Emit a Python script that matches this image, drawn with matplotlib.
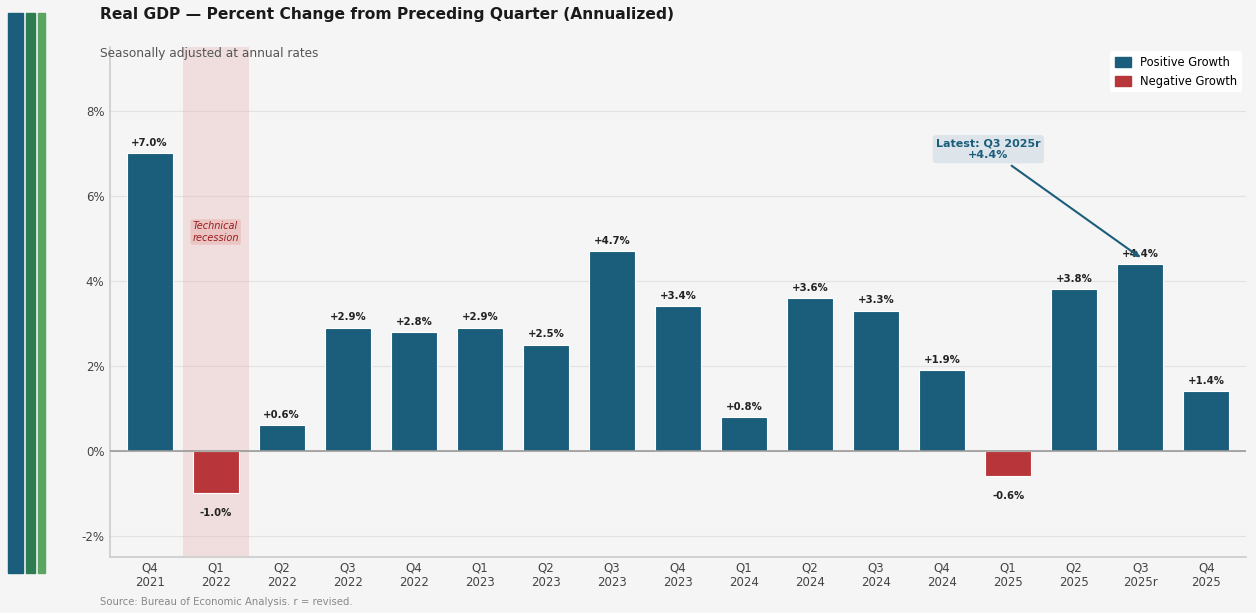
import matplotlib
matplotlib.use("Agg")
from matplotlib import pyplot as plt
from matplotlib.patches import Rectangle, Patch

quarters = ["Q4\n2021", "Q1\n2022", "Q2\n2022", "Q3\n2022", "Q4\n2022", "Q1\n2023",
            "Q2\n2023", "Q3\n2023", "Q4\n2023", "Q1\n2024", "Q2\n2024", "Q3\n2024",
            "Q4\n2024", "Q1\n2025", "Q2\n2025", "Q3\n2025r", "Q4\n2025"]
growth = [7.0, -1.0, 0.6, 2.9, 2.8, 2.9, 2.5, 4.7, 3.4, 0.8, 3.6, 3.3, 1.9, -0.6, 3.8, 4.4, 1.4]
y_ticks = [-2, 0, 2, 4, 6, 8]

pos_color = "#1b5e7b"
neg_color = "#b83639"
bg = "#f5f5f5"

fig = plt.figure(figsize=(12.56, 6.13), dpi=100, facecolor=bg)
ax = fig.add_axes([0.0876, 0.0914, 0.9044, 0.8316], facecolor=bg)

# Decorative stripes on the left.
for x0, w, c in [(8, 15, "#1b5e7b"), (26, 9, "#2e7d52"), (38, 7, "#5aa55f")]:
    fig.patches.append(Rectangle((x0 / 1256, 40 / 613), w / 1256, 560 / 613,
                                 transform=fig.transFigure, color=c, zorder=0))

x = list(range(len(growth)))
colors = [pos_color if v >= 0 else neg_color for v in growth]
ax.bar(x, growth, width=0.7, color=colors, edgecolor="white", linewidth=0.8, zorder=3)

# Recession shading.
ax.axvspan(0.5, 1.5, color="#e8b4b4", alpha=0.35, zorder=1, linewidth=0)
ax.text(1, 5.15, "Technical\nrecession", ha="center", va="center", fontsize=7,
        style="italic", color="#9b1c1c", zorder=4,
        bbox=dict(boxstyle="round,pad=0.2", fc="#e8b4b4", ec="none", alpha=0.6))

# Value labels.
for xi, v in zip(x, growth):
    if v >= 0:
        ax.text(xi, v + 0.12, f"+{v:.1f}%", ha="center", va="bottom", fontsize=7.3,
                fontweight="bold", color="#222222", zorder=5)
    else:
        ax.text(xi, v - 0.35, f"{v:.1f}%", ha="center", va="top", fontsize=7.3,
                fontweight="bold", color="#222222", zorder=5)

# Latest annotation.
ax.annotate("Latest: Q3 2025r\n+4.4%", xy=(15, 4.55), xytext=(12.7, 7.1),
            ha="center", va="center", fontsize=8, fontweight="bold", color=pos_color,
            bbox=dict(boxstyle="round,pad=0.3", fc="#dde5ea", ec="none"),
            arrowprops=dict(arrowstyle="-|>", color=pos_color, lw=1.5,
                            shrinkA=3, shrinkB=0, mutation_scale=8), zorder=6)

ax.axhline(0, color="#999999", lw=1.2, zorder=4)
ax.set_xlim(-0.6, 16.6)
ax.set_ylim(-2.5, 9.5)
ax.set_yticks(y_ticks)
ax.set_yticklabels([f"{t}%" for t in y_ticks])
ax.set_xticks(x)
ax.set_xticklabels(quarters)
ax.tick_params(axis="both", labelsize=8.5, colors="#444444", length=0)
ax.tick_params(axis="x", pad=3)
ax.tick_params(axis="y", pad=4)
ax.grid(axis="y", color="#e2e2e2", lw=0.8, zorder=0)
ax.set_axisbelow(True)
for s in ["top", "right"]:
    ax.spines[s].set_visible(False)
for s in ["left", "bottom"]:
    ax.spines[s].set_color("#cccccc")
    ax.spines[s].set_linewidth(1.2)

handles = [Patch(color=pos_color, label="Positive Growth"),
           Patch(color=neg_color, label="Negative Growth")]
leg = ax.legend(handles=handles, loc="upper right", bbox_to_anchor=(1.0, 1.0), fontsize=8.3,
                frameon=True, facecolor="white", edgecolor="none", framealpha=1,
                handlelength=1.4, handleheight=1.0, borderaxespad=0.35)

fig.text(100 / 1256, 1 - 15 / 613, "Real GDP — Percent Change from Preceding Quarter (Annualized)",
         fontsize=11.2, fontweight="bold", color="#1a1a1a", va="center", ha="left")
fig.text(100 / 1256, 1 - 54 / 613, "Seasonally adjusted at annual rates",
         fontsize=8.7, color="#555555", va="center", ha="left")
fig.text(100 / 1256, 1 - 602 / 613, "Source: Bureau of Economic Analysis. r = revised.",
         fontsize=7.3, color="#888888", va="center", ha="left")

fig.savefig("out.png", dpi=100, facecolor=bg)
